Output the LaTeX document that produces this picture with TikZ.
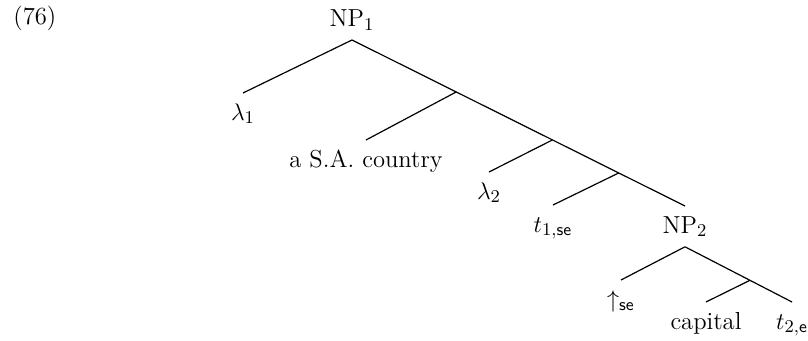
\documentclass[tikz,border=0pt]{standalone}
\usepackage{amsmath}
\usetikzlibrary{calc}
\begin{document}
\begin{tikzpicture}[x=0.5pt,y=-0.5pt,
  every node/.style={font=\fontsize{12.3}{15}\selectfont},
  lab/.style={inner xsep=0pt, inner ysep=5.5pt, text height=8pt, text depth=1pt},
  edge/.style={line width=0.6pt}]
\useasboundingbox (0,0) rectangle (808,341);
\node[anchor=base west, inner sep=0pt] (ex) at (13,25) {(76)};
\node[lab, anchor=south] (np1) at (352,40) {NP$_1$};
\node[lab, anchor=north] (lam1) at (243,93) {$\lambda_1$};
\node[lab, anchor=north] (asa) at (366,140) {a S.A. country};
\node[lab, anchor=north] (lam2) at (489,172) {$\lambda_2$};
\node[lab, anchor=north] (t1) at (553,205) {$t_{1,\textsf{se}}$};
\node[lab, anchor=north] (np2) at (685,206) {NP$_2$};
\node[lab, anchor=north] (up) at (621,280) {$\uparrow_{\textsf{se}}$};
\node[lab, anchor=north] (cap) at (706,302) {capital};
\node[lab, anchor=north] (t2) at (792,302) {$t_{2,\textsf{e}}$};
\coordinate (x1) at ($(np1.south)!0.313!(np2.north)$);
\coordinate (x2) at ($(np1.south)!0.602!(np2.north)$);
\coordinate (x3) at ($(np1.south)!0.801!(np2.north)$);
\coordinate (x4) at ($(np2.south)!0.607!(t2.north)$);
\draw[edge] (np1.south) -- (lam1.north);
\draw[edge] (np1.south) -- (np2.north);
\draw[edge] (x1) -- (asa.north);
\draw[edge] (x2) -- (lam2.north);
\draw[edge] (x3) -- (t1.north);
\draw[edge] (np2.south) -- (up.north);
\draw[edge] (np2.south) -- (t2.north);
\draw[edge] (x4) -- (cap.north);
\end{tikzpicture}
\end{document}
